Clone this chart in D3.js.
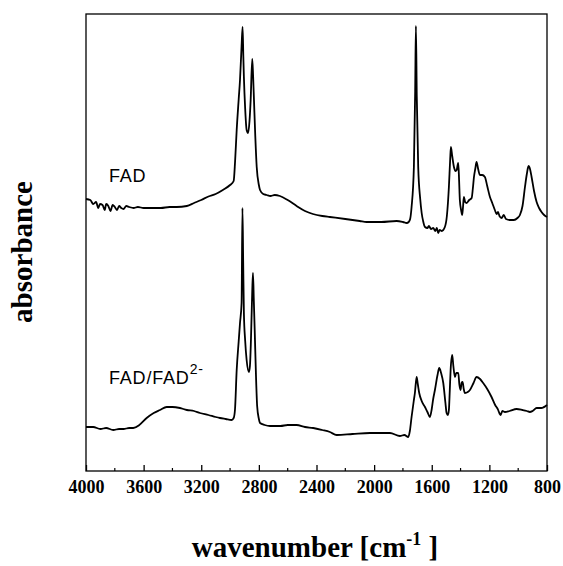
<!DOCTYPE html>
<html>
<head>
<meta charset="utf-8">
<script src="https://cdn.jsdelivr.net/npm/d3@7"></script>
<style>
  body { margin: 0; background: #fff; }
  svg { display: block; }
</style>
</head>
<body>
<svg id="chart"></svg>
<script>
// wavenumber [cm-1] and absorbance (arbitrary units, traces offset)
var fadWave = [4000, 3970, 3950, 3930, 3915, 3903, 3885, 3870, 3860, 3845, 3830, 3815, 3800, 3785, 3770, 3755, 3740, 3720, 3700, 3670, 3640, 3600, 3550, 3480, 3420, 3371, 3300, 3250, 3200, 3150, 3100, 3050, 3000, 2975, 2965, 2954, 2940, 2931, 2920, 2913, 2908, 2904, 2895, 2885, 2875, 2865, 2857, 2846, 2840, 2834, 2825, 2815, 2800, 2792, 2770, 2746, 2720, 2690, 2654, 2600, 2538, 2480, 2425, 2360, 2307, 2200, 2100, 2052, 1950, 1844, 1800, 1774, 1760, 1750, 1740, 1724, 1715, 1710, 1704, 1694, 1680, 1670, 1660, 1647, 1630, 1620, 1605, 1590, 1575, 1565, 1555, 1545, 1530, 1509, 1495, 1481, 1472, 1467, 1458, 1446, 1435, 1427, 1420, 1416, 1410, 1405, 1395, 1389, 1383, 1377, 1368, 1358, 1340, 1323, 1315, 1307, 1298, 1289, 1278, 1266, 1250, 1231, 1215, 1196, 1180, 1162, 1150, 1140, 1130, 1115, 1100, 1085, 1058, 1030, 1005, 988, 970, 953, 940, 928, 918, 907, 890, 872, 855, 838, 820, 800];
var fadAbs = [2.72, 2.71, 2.67, 2.69, 2.63, 2.67, 2.66, 2.61, 2.67, 2.65, 2.60, 2.66, 2.64, 2.61, 2.65, 2.63, 2.62, 2.65, 2.64, 2.63, 2.64, 2.63, 2.63, 2.63, 2.64, 2.64, 2.65, 2.68, 2.71, 2.745, 2.77, 2.81, 2.86, 2.90, 3.10, 3.41, 3.72, 3.91, 4.25, 4.44, 4.15, 3.94, 3.62, 3.41, 3.38, 3.50, 3.71, 4.12, 3.95, 3.71, 3.35, 3.04, 2.86, 2.81, 2.77, 2.76, 2.75, 2.76, 2.75, 2.71, 2.65, 2.60, 2.57, 2.55, 2.54, 2.52, 2.50, 2.49, 2.49, 2.50, 2.49, 2.48, 2.49, 2.52, 2.64, 3.04, 3.80, 4.45, 3.75, 3.04, 2.72, 2.58, 2.50, 2.44, 2.43, 2.45, 2.42, 2.43, 2.40, 2.43, 2.38, 2.41, 2.40, 2.44, 2.55, 2.84, 3.12, 3.24, 3.15, 3.04, 3.00, 3.01, 3.06, 3.08, 2.90, 2.71, 2.60, 2.56, 2.64, 2.74, 2.69, 2.68, 2.71, 2.73, 2.82, 2.94, 3.02, 3.09, 3.02, 2.96, 2.96, 2.94, 2.85, 2.74, 2.68, 2.61, 2.57, 2.59, 2.55, 2.53, 2.56, 2.52, 2.51, 2.51, 2.53, 2.56, 2.65, 2.84, 2.97, 3.05, 3.02, 2.94, 2.80, 2.69, 2.63, 2.59, 2.56, 2.54];

var dianionWave = [4000, 3950, 3900, 3860, 3811, 3770, 3740, 3700, 3672, 3630, 3579, 3530, 3486, 3440, 3400, 3348, 3300, 3250, 3209, 3150, 3100, 3070, 3030, 2989, 2975, 2966, 2954, 2940, 2931, 2920, 2914, 2909, 2904, 2895, 2885, 2869, 2862, 2855, 2846, 2841, 2835, 2829, 2820, 2812, 2800, 2792, 2760, 2723, 2650, 2600, 2538, 2480, 2423, 2360, 2307, 2260, 2150, 2029, 1950, 1890, 1821, 1790, 1763, 1752, 1740, 1725, 1717, 1705, 1697, 1687, 1670, 1647, 1630, 1613, 1600, 1590, 1578, 1560, 1548, 1535, 1520, 1505, 1497, 1488, 1481, 1475, 1469, 1458, 1450, 1439, 1430, 1416, 1408, 1400, 1393, 1386, 1378, 1370, 1350, 1335, 1310, 1289, 1265, 1243, 1215, 1185, 1160, 1139, 1128, 1122, 1110, 1092, 1060, 1011, 970, 940, 919, 900, 872, 840, 800];
var dianionAbs = [0.44, 0.44, 0.42, 0.43, 0.41, 0.42, 0.42, 0.43, 0.43, 0.46, 0.53, 0.58, 0.61, 0.64, 0.64, 0.63, 0.61, 0.60, 0.58, 0.56, 0.54, 0.53, 0.52, 0.51, 0.53, 0.61, 1.01, 1.30, 1.48, 1.68, 2.63, 2.10, 1.58, 1.30, 1.11, 0.99, 1.05, 1.31, 1.80, 1.98, 1.70, 1.41, 0.95, 0.65, 0.52, 0.48, 0.46, 0.45, 0.45, 0.46, 0.46, 0.44, 0.43, 0.41, 0.39, 0.36, 0.37, 0.38, 0.38, 0.38, 0.35, 0.36, 0.34, 0.40, 0.54, 0.70, 0.78, 0.94, 0.87, 0.78, 0.70, 0.64, 0.59, 0.54, 0.62, 0.72, 0.81, 0.96, 1.03, 0.98, 0.88, 0.68, 0.58, 0.56, 0.61, 0.80, 1.01, 1.16, 1.05, 0.94, 0.98, 0.98, 0.86, 0.81, 0.88, 0.89, 0.82, 0.78, 0.79, 0.81, 0.88, 0.94, 0.92, 0.88, 0.82, 0.74, 0.66, 0.61, 0.57, 0.56, 0.60, 0.59, 0.60, 0.62, 0.61, 0.60, 0.59, 0.60, 0.63, 0.63, 0.66];

var xTicks = [4000, 3600, 3200, 2800, 2400, 2000, 1600, 1200, 800];

var width = 563, height = 566;
var margin = {left: 86, right: 16, top: 14, bottom: 95};

var svg = d3.select('#chart')
    .attr('width', width)
    .attr('height', height);

var xScale = d3.scaleLinear()
    .domain([4000, 800])
    .range([margin.left, width - margin.right]);

var yScale = d3.scaleLinear()
    .domain([0, 4.57])
    .range([height - margin.bottom, margin.top]);

var plotW = width - margin.left - margin.right;
var plotH = height - margin.top - margin.bottom;

// frame
svg.append('rect')
    .attr('x', margin.left)
    .attr('y', margin.top)
    .attr('width', plotW)
    .attr('height', plotH)
    .attr('fill', 'none')
    .attr('stroke', '#000')
    .attr('stroke-width', 1.3);

// bottom axis, ticks pointing inward
var xAxis = d3.axisBottom(xScale)
    .tickValues(xTicks)
    .tickSize(-6)
    .tickPadding(9)
    .tickFormat(d3.format('d'));

var gx = svg.append('g')
    .attr('transform', 'translate(0,' + (height - margin.bottom) + ')')
    .call(xAxis);
gx.select('.domain').remove();
gx.selectAll('line').attr('stroke-width', 1.3);
gx.selectAll('text')
    .attr('font-family', '"Liberation Serif", "Times New Roman", serif')
    .attr('font-weight', 'bold')
    .attr('font-size', 18)
    .attr('fill', '#000');

var minor = d3.range(3800, 800, -400);
svg.append('g')
    .selectAll('line')
    .data(minor)
    .enter()
    .append('line')
      .attr('x1', d => xScale(d))
      .attr('x2', d => xScale(d))
      .attr('y1', height - margin.bottom)
      .attr('y2', height - margin.bottom - 3)
      .attr('stroke', '#000')
      .attr('stroke-width', 1.2);

// spectra
var line = d3.line()
    .x(d => xScale(d[0]))
    .y(d => yScale(d[1]))
    .curve(d3.curveMonotoneX);

var traces = [
    d3.zip(fadWave, fadAbs),
    d3.zip(dianionWave, dianionAbs)
];

svg.append('g')
    .selectAll('path')
    .data(traces)
    .enter()
    .append('path')
      .attr('d', line)
      .attr('fill', 'none')
      .attr('stroke', '#000')
      .attr('stroke-width', 1.8)
      .attr('stroke-linejoin', 'round');

// trace labels
svg.append('text')
    .attr('x', 109)
    .attr('y', 182)
    .attr('font-family', '"Liberation Sans", Arial, sans-serif')
    .attr('font-size', 18)
    .attr('letter-spacing', 0.8)
    .text('FAD');

var lbl2 = svg.append('text')
    .attr('x', 109)
    .attr('y', 384)
    .attr('font-family', '"Liberation Sans", Arial, sans-serif')
    .attr('font-size', 18)
    .attr('letter-spacing', 0.8)
    .text('FAD/FAD');
lbl2.append('tspan')
    .attr('dy', -10)
    .attr('font-size', 14)
    .text('2-');

// axis titles
var xTitle = svg.append('text')
    .attr('x', 315)
    .attr('y', 557)
    .attr('text-anchor', 'middle')
    .attr('font-family', '"Liberation Serif", "Times New Roman", serif')
    .attr('font-weight', 'bold')
    .attr('font-size', 29)
    .text('wavenumber [cm');
xTitle.append('tspan')
    .attr('dy', -12)
    .attr('font-size', 18)
    .text('-1');
xTitle.append('tspan')
    .attr('dy', 12)
    .text(' ]');

svg.append('text')
    .attr('transform', 'translate(32,' + 252 + ') rotate(-90)')
    .attr('text-anchor', 'middle')
    .attr('font-family', '"Liberation Serif", "Times New Roman", serif')
    .attr('font-weight', 'bold')
    .attr('font-size', 29)
    .text('absorbance');
</script>
</body>
</html>
